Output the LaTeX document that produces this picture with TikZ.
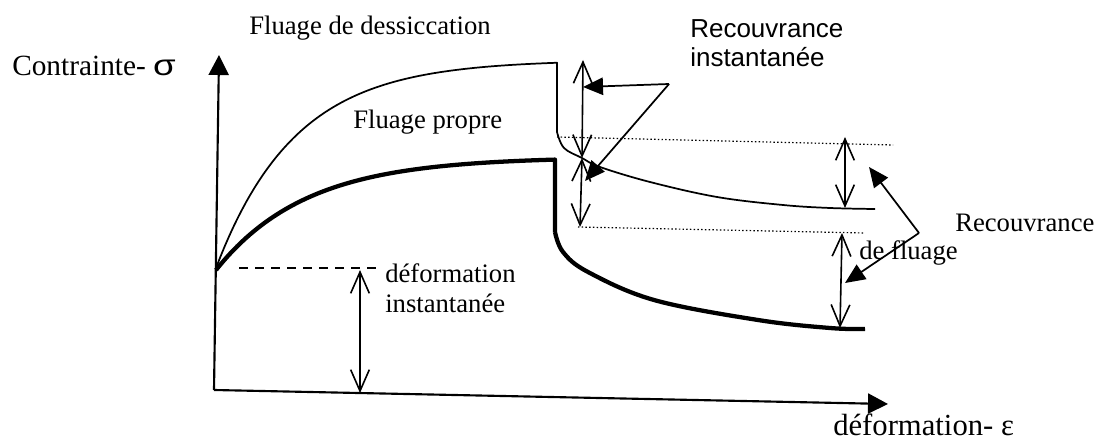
\documentclass[tikz,border=0pt]{standalone}
\usepackage{fontspec}
\usepackage{graphicx}
\setmainfont{Liberation Serif}
\newfontfamily\arialf{Liberation Sans}
\usetikzlibrary{arrows.meta}
\begin{document}
\begin{tikzpicture}[x=0.75pt,y=-0.75pt,
  >={Straight Barb[length=16pt,width=14pt]},
  axisline/.style={line width=1.6pt,-{Triangle[length=15pt,width=15pt]}},
  thincurve/.style={line width=1.3pt,line join=round},
  thickcurve/.style={line width=3.2pt,line join=round},
  dimarrow/.style={line width=1.2pt,<->},
  pointer/.style={line width=1.3pt,-{Triangle[length=15pt,width=13pt]}},
  dottedline/.style={line width=0.9pt,dash pattern=on 1.1pt off 1.7pt},
  dashline/.style={line width=1.2pt,dash pattern=on 7pt off 5pt},
  lbl/.style={inner sep=0pt,anchor=base west,font=\fontsize{20}{24}\selectfont},
]
\useasboundingbox (0,0) rectangle (1095,441);

% axes
\coordinate (O) at (214,390);
\coordinate (Ytip) at (219,55);
\coordinate (Xtip) at (888,404);
\draw[axisline] (O) -- (Ytip);
\draw[axisline] (O) -- (Xtip);

% thin curve (fluage de dessiccation)
\draw[thincurve] plot[domain=216:557,samples=80] (\x,{60+208*exp(-(\x-216)/79)})
  -- (557,132)
  plot[smooth,tension=0.6] coordinates {(557,132) (564,148) (582,158) (600,167) (650,182) (717,197) (783,205) (830,208) (875,209)};

% thick curve (fluage propre)
\draw[thickcurve] plot[domain=216:555,samples=80] (\x,{157+113*exp(-(\x-216)/90)})
  -- (555,232)
  plot[smooth,tension=0.6] coordinates {(555,232) (563,252) (588,272) (654,300) (758,320) (830,328) (865,329)};

% dashed level + instantaneous deformation
\coordinate (DashA) at (239,268);
\coordinate (DashB) at (382,268);
\draw[dashline] (DashA) -- (DashB);
\coordinate (DIt) at (360,270);
\coordinate (DIb) at (360,393);
\draw[dimarrow] (DIt) -- (DIb);

% dotted levels
\coordinate (D1a) at (557,137);
\coordinate (D1b) at (893,145);
\coordinate (D2a) at (578,227);
\coordinate (D2b) at (865,233);
\draw[dottedline] (D1a) -- (D1b);
\draw[dottedline] (D2a) -- (D2b);

% instantaneous recovery double arrows
\coordinate (RIt) at (583,60);
\coordinate (RIm) at (582,158);
\coordinate (RIb) at (580,227);
\draw[dimarrow] (RIt) -- (RIm);
\draw[dimarrow] (RIm) -- (RIb);

% creep recovery double arrows
\coordinate (RF1t) at (845,137);
\coordinate (RF1b) at (845,208);
\coordinate (RF2t) at (842,233);
\coordinate (RF2b) at (840,328);
\draw[dimarrow] (RF1t) -- (RF1b);
\draw[dimarrow] (RF2t) -- (RF2b);

% pointers
\coordinate (V1) at (669,84);
\coordinate (P1) at (583,87);
\coordinate (P2) at (585,181);
\draw[pointer] (V1) -- (P1);
\draw[pointer] (V1) -- (P2);
\coordinate (V2) at (919,233);
\coordinate (P3) at (869,167);
\coordinate (P4) at (845,283);
\draw[pointer] (V2) -- (P3);
\draw[pointer] (V2) -- (P4);

% labels
\node[lbl,font=\fontsize{22}{26}\selectfont] (ylab) at (12,76) {Contrainte- {\arialf\fontsize{22}{26}\selectfont\scalebox{1.25}[1]{σ}}};
\node[lbl] (fdes) at (249,35) {Fluage de dessiccation};
\node[lbl] (fpro) at (353,129) {Fluage propre};
\node[lbl] (dinst1) at (385,283) {déformation};
\node[lbl] (dinst2) at (385,313) {instantanée};
\node[lbl,font=\arialf\fontsize{19.5}{23}\selectfont] (ri1) at (690,38) {Recouvrance};
\node[lbl,font=\arialf\fontsize{19.5}{23}\selectfont] (ri2) at (690,67) {instantanée};
\node[lbl] (rf1) at (955,232) {Recouvrance};
\node[lbl] (rf2) at (859,260) {de fluage};
\node[lbl,font=\fontsize{23}{27}\selectfont] (xlab) at (833,435) {déformation- ε};
\end{tikzpicture}
\end{document}
